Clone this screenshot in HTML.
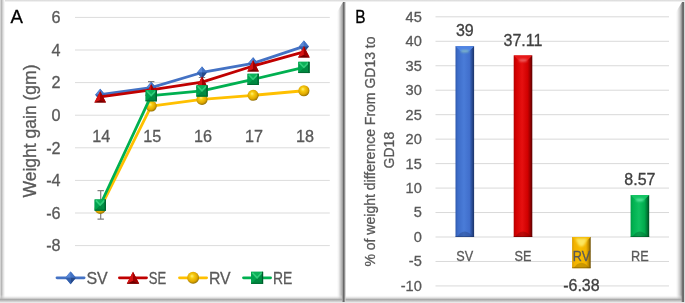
<!DOCTYPE html>
<html><head><meta charset="utf-8"><style>
html,body{margin:0;padding:0;background:#fff;}
body{width:685px;height:303px;overflow:hidden;position:relative;}
svg{display:block;will-change:transform;}
text{font-family:"Liberation Sans",sans-serif;}
</style></head><body>
<svg width="685" height="303" viewBox="0 0 685 303">
<defs>
<linearGradient id="shR" gradientUnits="userSpaceOnUse" x1="337" x2="346" y1="0" y2="0">
<stop offset="0" stop-color="#fff"/>
<stop offset="0.167" stop-color="#f2f2f2"/>
<stop offset="0.278" stop-color="#e0e0e0"/>
<stop offset="0.389" stop-color="#cccccc"/>
<stop offset="0.5" stop-color="#b8b8b8"/>
<stop offset="0.611" stop-color="#a0a0a0"/>
<stop offset="0.722" stop-color="#686868"/>
<stop offset="0.833" stop-color="#909090"/>
<stop offset="0.944" stop-color="#d8d8d8"/>
<stop offset="1" stop-color="#fafafa"/>
</linearGradient>
<linearGradient id="shR2" gradientUnits="userSpaceOnUse" x1="676" x2="685" y1="0" y2="0">
<stop offset="0" stop-color="#fff"/>
<stop offset="0.167" stop-color="#f0f0f0"/>
<stop offset="0.278" stop-color="#e0e0e0"/>
<stop offset="0.389" stop-color="#d0d0d0"/>
<stop offset="0.5" stop-color="#b8b8b8"/>
<stop offset="0.611" stop-color="#989898"/>
<stop offset="0.722" stop-color="#707070"/>
<stop offset="0.833" stop-color="#686868"/>
<stop offset="0.944" stop-color="#d8d8d8"/>
<stop offset="1" stop-color="#e0e0e0"/>
</linearGradient>
<linearGradient id="shB" x1="0" x2="0" y1="0" y2="1">
<stop offset="0" stop-color="#fff" stop-opacity="0"/>
<stop offset="0.65" stop-color="#a8a8a8"/>
<stop offset="1" stop-color="#dcdcdc"/>
</linearGradient>
<linearGradient id="shL" x1="0" x2="1" y1="0" y2="0">
<stop offset="0" stop-color="#e2e2e2"/>
<stop offset="0.3" stop-color="#b6b6b6"/>
<stop offset="0.6" stop-color="#dcdcdc"/>
<stop offset="1" stop-color="#fff"/>
</linearGradient>
<linearGradient id="shT" x1="0" x2="0" y1="0" y2="1">
<stop offset="0" stop-color="#d6d6d6"/>
<stop offset="0.5" stop-color="#ececec"/>
<stop offset="1" stop-color="#fff"/>
</linearGradient>
<radialGradient id="gBall" cx="0.45" cy="0.42" r="0.6" fx="0.4" fy="0.35">
<stop offset="0" stop-color="#FFF27A"/>
<stop offset="0.3" stop-color="#F8CC10"/>
<stop offset="0.7" stop-color="#E0A800"/>
<stop offset="0.9" stop-color="#a88000"/>
<stop offset="1" stop-color="#806000"/>
</radialGradient>

<linearGradient id="barSV" x1="0" x2="1" y1="0" y2="0"><stop offset="0" stop-color="#2d58ac"/><stop offset="0.12" stop-color="#3d6cc8"/><stop offset="0.45" stop-color="#4a7cd8"/><stop offset="0.75" stop-color="#416fcc"/><stop offset="0.88" stop-color="#2a4e98"/><stop offset="1" stop-color="#1a3266"/></linearGradient>
<linearGradient id="barSE" x1="0" x2="1" y1="0" y2="0"><stop offset="0" stop-color="#b00000"/><stop offset="0.12" stop-color="#d40000"/><stop offset="0.45" stop-color="#e61010"/><stop offset="0.75" stop-color="#d00000"/><stop offset="0.88" stop-color="#9a0000"/><stop offset="1" stop-color="#5a0000"/></linearGradient>
<linearGradient id="barRV" x1="0" x2="1" y1="0" y2="0"><stop offset="0" stop-color="#d89c00"/><stop offset="0.12" stop-color="#f2b200"/><stop offset="0.45" stop-color="#f8bc00"/><stop offset="0.75" stop-color="#f2b400"/><stop offset="0.88" stop-color="#c08c00"/><stop offset="1" stop-color="#6a4c00"/></linearGradient>
<linearGradient id="barRE" x1="0" x2="1" y1="0" y2="0"><stop offset="0" stop-color="#009a44"/><stop offset="0.12" stop-color="#00b050"/><stop offset="0.45" stop-color="#10c060"/><stop offset="0.75" stop-color="#00aa4c"/><stop offset="0.88" stop-color="#007e38"/><stop offset="1" stop-color="#004a20"/></linearGradient>
<filter id="blur1" x="-50%" y="-100%" width="200%" height="300%"><feGaussianBlur stdDeviation="0.8"/></filter>
<filter id="blur2" x="-50%" y="-50%" width="200%" height="200%"><feGaussianBlur stdDeviation="0.55"/></filter>
</defs>
<rect width="685" height="303" fill="#fff"/>
<rect x="0" y="0" width="685" height="2.5" fill="url(#shT)"/>
<rect x="0" y="0" width="5" height="303" fill="url(#shL)"/>
<rect x="0" y="302" width="685" height="1" fill="#e8e8e8"/>
<path d="M337 12L343 2H346V302H342L337 297Z" fill="url(#shR)"/>
<path d="M676 12L682 2H685V302H681L676 297Z" fill="url(#shR2)"/>
<rect x="0" y="295" width="342" height="7" fill="url(#shB)"/>
<rect x="345.5" y="295" width="336" height="7" fill="url(#shB)"/>
<text x="10.60" y="23.00" font-size="18.6" fill="#000" stroke="#000" stroke-width="0.3" text-anchor="start" >A</text>
<text transform="translate(355.20,22.60) scale(0.85,1)" font-size="18.2" fill="#000" stroke="#000" stroke-width="0.3" text-anchor="start" >B</text>
<rect x="75" y="16.90" width="254.8" height="1" fill="#dcdcdc"/>
<text x="60.60" y="23.20" font-size="16.2" fill="#595959" stroke="#595959" stroke-width="0.3" text-anchor="end" >6</text>
<rect x="75" y="49.50" width="254.8" height="1" fill="#dcdcdc"/>
<text x="60.60" y="55.80" font-size="16.2" fill="#595959" stroke="#595959" stroke-width="0.3" text-anchor="end" >4</text>
<rect x="75" y="82.10" width="254.8" height="1" fill="#dcdcdc"/>
<text x="60.60" y="88.40" font-size="16.2" fill="#595959" stroke="#595959" stroke-width="0.3" text-anchor="end" >2</text>
<rect x="75" y="114.70" width="254.8" height="1" fill="#dcdcdc"/>
<text x="60.60" y="121.00" font-size="16.2" fill="#595959" stroke="#595959" stroke-width="0.3" text-anchor="end" >0</text>
<rect x="75" y="147.30" width="254.8" height="1" fill="#dcdcdc"/>
<text x="60.60" y="153.60" font-size="16.2" fill="#595959" stroke="#595959" stroke-width="0.3" text-anchor="end" >-2</text>
<rect x="75" y="179.90" width="254.8" height="1" fill="#dcdcdc"/>
<text x="60.60" y="186.20" font-size="16.2" fill="#595959" stroke="#595959" stroke-width="0.3" text-anchor="end" >-4</text>
<rect x="75" y="212.50" width="254.8" height="1" fill="#dcdcdc"/>
<text x="60.60" y="218.80" font-size="16.2" fill="#595959" stroke="#595959" stroke-width="0.3" text-anchor="end" >-6</text>
<rect x="75" y="245.10" width="254.8" height="1" fill="#dcdcdc"/>
<text x="60.60" y="251.40" font-size="16.2" fill="#595959" stroke="#595959" stroke-width="0.3" text-anchor="end" >-8</text>
<text x="101.20" y="142.20" font-size="16.2" fill="#595959" stroke="#595959" stroke-width="0.3" text-anchor="middle" >14</text>
<text x="152.20" y="142.20" font-size="16.2" fill="#595959" stroke="#595959" stroke-width="0.3" text-anchor="middle" >15</text>
<text x="203.00" y="142.20" font-size="16.2" fill="#595959" stroke="#595959" stroke-width="0.3" text-anchor="middle" >16</text>
<text x="254.10" y="142.20" font-size="16.2" fill="#595959" stroke="#595959" stroke-width="0.3" text-anchor="middle" >17</text>
<text x="304.90" y="142.20" font-size="16.2" fill="#595959" stroke="#595959" stroke-width="0.3" text-anchor="middle" >18</text>
<text transform="translate(36.3,131) rotate(-90)" font-size="17.5" fill="#595959" stroke="#595959" stroke-width="0.3" text-anchor="middle">Weight gain (gm)</text>
<path d="M100.7 190.7V219.2M97.5 190.7H103.9M97.5 219.2H103.9" stroke="#7f7f7f" stroke-width="1.2" fill="none"/>
<path d="M151.2 81.7V95M148.0 81.7H154.39999999999998M148.0 95H154.39999999999998" stroke="#7f7f7f" stroke-width="1.2" fill="none"/>
<path d="M202 77.5V85M198.8 77.5H205.2M198.8 85H205.2" stroke="#7f7f7f" stroke-width="1.2" fill="none"/>
<polyline points="100.2,94.66 151.2,87.65 202.0,72.49 253.1,63.37 303.9,46.41" fill="none" stroke="#4472C4" stroke-width="2.8" stroke-linejoin="round" stroke-linecap="round"/>
<path d="M100.2 88.662L105.2 94.662L100.2 100.662L95.2 94.662Z" fill="#3c6cc0"/><path d="M100.2 88.662L95.2 94.662L100.2 94.662Z" fill="#5a88d6"/><path d="M100.2 88.662L105.2 94.662L100.2 94.662Z" fill="#4272c4"/><path d="M100.2 100.662L105.2 94.662L100.2 94.662Z" fill="#264a8a"/><path d="M100.2 100.662L95.2 94.662L100.2 94.662Z" fill="#3460ac"/>
<path d="M151.2 81.653L156.2 87.653L151.2 93.653L146.2 87.653Z" fill="#3c6cc0"/><path d="M151.2 81.653L146.2 87.653L151.2 87.653Z" fill="#5a88d6"/><path d="M151.2 81.653L156.2 87.653L151.2 87.653Z" fill="#4272c4"/><path d="M151.2 93.653L156.2 87.653L151.2 87.653Z" fill="#264a8a"/><path d="M151.2 93.653L146.2 87.653L151.2 87.653Z" fill="#3460ac"/>
<path d="M202.0 66.494L207.0 72.494L202.0 78.494L197.0 72.494Z" fill="#3c6cc0"/><path d="M202.0 66.494L197.0 72.494L202.0 72.494Z" fill="#5a88d6"/><path d="M202.0 66.494L207.0 72.494L202.0 72.494Z" fill="#4272c4"/><path d="M202.0 78.494L207.0 72.494L202.0 72.494Z" fill="#264a8a"/><path d="M202.0 78.494L197.0 72.494L202.0 72.494Z" fill="#3460ac"/>
<path d="M253.1 57.366L258.1 63.366L253.1 69.366L248.1 63.366Z" fill="#3c6cc0"/><path d="M253.1 57.366L248.1 63.366L253.1 63.366Z" fill="#5a88d6"/><path d="M253.1 57.366L258.1 63.366L253.1 63.366Z" fill="#4272c4"/><path d="M253.1 69.366L258.1 63.366L253.1 63.366Z" fill="#264a8a"/><path d="M253.1 69.366L248.1 63.366L253.1 63.366Z" fill="#3460ac"/>
<path d="M303.9 40.414L308.9 46.414L303.9 52.414L298.9 46.414Z" fill="#3c6cc0"/><path d="M303.9 40.414L298.9 46.414L303.9 46.414Z" fill="#5a88d6"/><path d="M303.9 40.414L308.9 46.414L303.9 46.414Z" fill="#4272c4"/><path d="M303.9 52.414L308.9 46.414L303.9 46.414Z" fill="#264a8a"/><path d="M303.9 52.414L298.9 46.414L303.9 46.414Z" fill="#3460ac"/>
<polyline points="100.2,96.94 151.2,89.94 202.0,82.11 253.1,65.97 303.9,51.79" fill="none" stroke="#C00000" stroke-width="2.8" stroke-linejoin="round" stroke-linecap="round"/>
<path d="M100.2 91.34400000000001L106.0 102.544L94.4 102.544Z" fill="#b00000"/><path d="M100.2 91.34400000000001L100.2 100.144L94.4 102.544Z" fill="#d41414"/><path d="M100.2 91.34400000000001L106.0 102.544L100.2 100.144Z" fill="#a00000"/><path d="M94.4 102.544L100.2 100.144L106.0 102.544Z" fill="#6e0000"/>
<path d="M151.2 84.33500000000001L157.0 95.535L145.39999999999998 95.535Z" fill="#b00000"/><path d="M151.2 84.33500000000001L151.2 93.135L145.39999999999998 95.535Z" fill="#d41414"/><path d="M151.2 84.33500000000001L157.0 95.535L151.2 93.135Z" fill="#a00000"/><path d="M145.39999999999998 95.535L151.2 93.135L157.0 95.535Z" fill="#6e0000"/>
<path d="M202.0 76.51100000000001L207.8 87.711L196.2 87.711Z" fill="#b00000"/><path d="M202.0 76.51100000000001L202.0 85.311L196.2 87.711Z" fill="#d41414"/><path d="M202.0 76.51100000000001L207.8 87.711L202.0 85.311Z" fill="#a00000"/><path d="M196.2 87.711L202.0 85.311L207.8 87.711Z" fill="#6e0000"/>
<path d="M253.1 60.374L258.9 71.574L247.29999999999998 71.574Z" fill="#b00000"/><path d="M253.1 60.374L253.1 69.174L247.29999999999998 71.574Z" fill="#d41414"/><path d="M253.1 60.374L258.9 71.574L253.1 69.174Z" fill="#a00000"/><path d="M247.29999999999998 71.574L253.1 69.174L258.9 71.574Z" fill="#6e0000"/>
<path d="M303.9 46.193L309.7 57.393L298.09999999999997 57.393Z" fill="#b00000"/><path d="M303.9 46.193L303.9 54.993L298.09999999999997 57.393Z" fill="#d41414"/><path d="M303.9 46.193L309.7 57.393L303.9 54.993Z" fill="#a00000"/><path d="M298.09999999999997 57.393L303.9 54.993L309.7 57.393Z" fill="#6e0000"/>
<polyline points="100.2,208.44 151.2,106.07 202.0,99.39 253.1,95.31 303.9,90.75" fill="none" stroke="#FFC000" stroke-width="2.8" stroke-linejoin="round" stroke-linecap="round"/>
<circle cx="100.2" cy="208.436" r="5.55" fill="url(#gBall)"/>
<circle cx="151.2" cy="106.072" r="5.55" fill="url(#gBall)"/>
<circle cx="202.0" cy="99.38900000000001" r="5.55" fill="url(#gBall)"/>
<circle cx="253.1" cy="95.31400000000001" r="5.55" fill="url(#gBall)"/>
<circle cx="303.9" cy="90.75" r="5.55" fill="url(#gBall)"/>
<polyline points="100.2,205.01 151.2,95.64 202.0,90.91 253.1,79.34 303.9,67.44" fill="none" stroke="#00B050" stroke-width="2.8" stroke-linejoin="round" stroke-linecap="round"/>
<rect x="94.60000000000001" y="199.413" width="11.2" height="11.2" fill="#00a04c"/><path d="M94.60000000000001 199.413L105.8 199.413L100.2 205.013Z" fill="#0cb058"/><path d="M105.8 199.413L105.8 210.613L100.2 205.013Z" fill="#008c44"/><path d="M94.60000000000001 210.613L105.8 210.613L100.2 205.013Z" fill="#008840"/><path d="M94.60000000000001 199.413L94.60000000000001 210.613L100.2 205.013Z" fill="#00a24e"/><path d="M95.80000000000001 200.413L100.2 205.013L104.6 200.413" fill="none" stroke="#40dc88" stroke-width="1.6" opacity="0.75" filter="url(#blur2)"/><rect x="104.6" y="199.413" width="1.2" height="11.2" fill="#005a2c"/><rect x="94.60000000000001" y="209.613" width="11.2" height="1" fill="#006a32"/>
<rect x="145.6" y="90.04" width="11.2" height="11.2" fill="#00a04c"/><path d="M145.6 90.04L156.79999999999998 90.04L151.2 95.64Z" fill="#0cb058"/><path d="M156.79999999999998 90.04L156.79999999999998 101.24L151.2 95.64Z" fill="#008c44"/><path d="M145.6 101.24L156.79999999999998 101.24L151.2 95.64Z" fill="#008840"/><path d="M145.6 90.04L145.6 101.24L151.2 95.64Z" fill="#00a24e"/><path d="M146.79999999999998 91.04L151.2 95.64L155.6 91.04" fill="none" stroke="#40dc88" stroke-width="1.6" opacity="0.75" filter="url(#blur2)"/><rect x="155.6" y="90.04" width="1.2" height="11.2" fill="#005a2c"/><rect x="145.6" y="100.24" width="11.2" height="1" fill="#006a32"/>
<rect x="196.4" y="85.313" width="11.2" height="11.2" fill="#00a04c"/><path d="M196.4 85.313L207.6 85.313L202.0 90.913Z" fill="#0cb058"/><path d="M207.6 85.313L207.6 96.51299999999999L202.0 90.913Z" fill="#008c44"/><path d="M196.4 96.51299999999999L207.6 96.51299999999999L202.0 90.913Z" fill="#008840"/><path d="M196.4 85.313L196.4 96.51299999999999L202.0 90.913Z" fill="#00a24e"/><path d="M197.6 86.313L202.0 90.913L206.4 86.313" fill="none" stroke="#40dc88" stroke-width="1.6" opacity="0.75" filter="url(#blur2)"/><rect x="206.4" y="85.313" width="1.2" height="11.2" fill="#005a2c"/><rect x="196.4" y="95.51299999999999" width="11.2" height="1" fill="#006a32"/>
<rect x="247.5" y="73.74000000000001" width="11.2" height="11.2" fill="#00a04c"/><path d="M247.5 73.74000000000001L258.7 73.74000000000001L253.1 79.34Z" fill="#0cb058"/><path d="M258.7 73.74000000000001L258.7 84.94L253.1 79.34Z" fill="#008c44"/><path d="M247.5 84.94L258.7 84.94L253.1 79.34Z" fill="#008840"/><path d="M247.5 73.74000000000001L247.5 84.94L253.1 79.34Z" fill="#00a24e"/><path d="M248.7 74.74000000000001L253.1 79.34L257.5 74.74000000000001" fill="none" stroke="#40dc88" stroke-width="1.6" opacity="0.75" filter="url(#blur2)"/><rect x="257.5" y="73.74000000000001" width="1.2" height="11.2" fill="#005a2c"/><rect x="247.5" y="83.94" width="11.2" height="1" fill="#006a32"/>
<rect x="298.29999999999995" y="61.841" width="11.2" height="11.2" fill="#00a04c"/><path d="M298.29999999999995 61.841L309.5 61.841L303.9 67.441Z" fill="#0cb058"/><path d="M309.5 61.841L309.5 73.041L303.9 67.441Z" fill="#008c44"/><path d="M298.29999999999995 73.041L309.5 73.041L303.9 67.441Z" fill="#008840"/><path d="M298.29999999999995 61.841L298.29999999999995 73.041L303.9 67.441Z" fill="#00a24e"/><path d="M299.49999999999994 62.841L303.9 67.441L308.3 62.841" fill="none" stroke="#40dc88" stroke-width="1.6" opacity="0.75" filter="url(#blur2)"/><rect x="308.3" y="61.841" width="1.2" height="11.2" fill="#005a2c"/><rect x="298.29999999999995" y="72.041" width="11.2" height="1" fill="#006a32"/>
<line x1="57.0" y1="277.8" x2="84.1" y2="277.8" stroke="#4472C4" stroke-width="2.8" stroke-linecap="round"/>
<path d="M70.6 271.38L75.94999999999999 277.8L70.6 284.22L65.25 277.8Z" fill="#3c6cc0"/><path d="M70.6 271.38L65.25 277.8L70.6 277.8Z" fill="#5a88d6"/><path d="M70.6 271.38L75.94999999999999 277.8L70.6 277.8Z" fill="#4272c4"/><path d="M70.6 284.22L75.94999999999999 277.8L70.6 277.8Z" fill="#264a8a"/><path d="M70.6 284.22L65.25 277.8L70.6 277.8Z" fill="#3460ac"/>
<text transform="translate(86.40,283.60) scale(0.93,1)" font-size="17.2" fill="#595959" stroke="#595959" stroke-width="0.3" text-anchor="start" >SV</text>
<line x1="119.4" y1="277.8" x2="146.5" y2="277.8" stroke="#C00000" stroke-width="2.8" stroke-linecap="round"/>
<path d="M133.0 271.808L139.206 283.79200000000003L126.794 283.79200000000003Z" fill="#b00000"/><path d="M133.0 271.808L133.0 281.0L126.794 283.79200000000003Z" fill="#d41414"/><path d="M133.0 271.808L139.206 283.79200000000003L133.0 281.0Z" fill="#a00000"/><path d="M126.794 283.79200000000003L133.0 281.0L139.206 283.79200000000003Z" fill="#6e0000"/>
<text transform="translate(148.80,283.60) scale(0.76,1)" font-size="17.2" fill="#595959" stroke="#595959" stroke-width="0.3" text-anchor="start" >SE</text>
<line x1="179.5" y1="277.8" x2="206.60000000000002" y2="277.8" stroke="#FFC000" stroke-width="2.8" stroke-linecap="round"/>
<circle cx="193.10000000000002" cy="277.8" r="5.9385" fill="url(#gBall)"/>
<text transform="translate(208.90,283.60) scale(0.92,1)" font-size="17.2" fill="#595959" stroke="#595959" stroke-width="0.3" text-anchor="start" >RV</text>
<line x1="243.5" y1="277.8" x2="270.6" y2="277.8" stroke="#00B050" stroke-width="2.8" stroke-linecap="round"/>
<rect x="251.10800000000003" y="271.808" width="11.984" height="11.984" fill="#00a04c"/><path d="M251.10800000000003 271.808L263.09200000000004 271.808L257.1 277.8Z" fill="#0cb058"/><path d="M263.09200000000004 271.808L263.09200000000004 283.79200000000003L257.1 277.8Z" fill="#008c44"/><path d="M251.10800000000003 283.79200000000003L263.09200000000004 283.79200000000003L257.1 277.8Z" fill="#008840"/><path d="M251.10800000000003 271.808L251.10800000000003 283.79200000000003L257.1 277.8Z" fill="#00a24e"/><path d="M252.30800000000002 272.808L257.1 277.8L261.89200000000005 272.808" fill="none" stroke="#40dc88" stroke-width="1.6" opacity="0.75" filter="url(#blur2)"/><rect x="261.89200000000005" y="271.808" width="1.2" height="11.984" fill="#005a2c"/><rect x="251.10800000000003" y="282.79200000000003" width="11.984" height="1" fill="#006a32"/>
<text transform="translate(272.90,283.60) scale(0.81,1)" font-size="17.2" fill="#595959" stroke="#595959" stroke-width="0.3" text-anchor="start" >RE</text>
<rect x="435.5" y="16.31" width="233.5" height="1" fill="#d9d9d9"/>
<text x="421.80" y="21.71" font-size="14.6" fill="#595959" stroke="#595959" stroke-width="0.3" text-anchor="end" >45</text>
<rect x="435.5" y="40.78" width="233.5" height="1" fill="#d9d9d9"/>
<text x="421.80" y="46.18" font-size="14.6" fill="#595959" stroke="#595959" stroke-width="0.3" text-anchor="end" >40</text>
<rect x="435.5" y="65.25" width="233.5" height="1" fill="#d9d9d9"/>
<text x="421.80" y="70.65" font-size="14.6" fill="#595959" stroke="#595959" stroke-width="0.3" text-anchor="end" >35</text>
<rect x="435.5" y="89.71" width="233.5" height="1" fill="#d9d9d9"/>
<text x="421.80" y="95.11" font-size="14.6" fill="#595959" stroke="#595959" stroke-width="0.3" text-anchor="end" >30</text>
<rect x="435.5" y="114.18" width="233.5" height="1" fill="#d9d9d9"/>
<text x="421.80" y="119.58" font-size="14.6" fill="#595959" stroke="#595959" stroke-width="0.3" text-anchor="end" >25</text>
<rect x="435.5" y="138.64" width="233.5" height="1" fill="#d9d9d9"/>
<text x="421.80" y="144.04" font-size="14.6" fill="#595959" stroke="#595959" stroke-width="0.3" text-anchor="end" >20</text>
<rect x="435.5" y="163.11" width="233.5" height="1" fill="#d9d9d9"/>
<text x="421.80" y="168.51" font-size="14.6" fill="#595959" stroke="#595959" stroke-width="0.3" text-anchor="end" >15</text>
<rect x="435.5" y="187.57" width="233.5" height="1" fill="#d9d9d9"/>
<text x="421.80" y="192.97" font-size="14.6" fill="#595959" stroke="#595959" stroke-width="0.3" text-anchor="end" >10</text>
<rect x="435.5" y="212.03" width="233.5" height="1" fill="#d9d9d9"/>
<text x="421.80" y="217.44" font-size="14.6" fill="#595959" stroke="#595959" stroke-width="0.3" text-anchor="end" >5</text>
<rect x="435.5" y="236.50" width="233.5" height="1" fill="#d9d9d9"/>
<text x="421.80" y="241.90" font-size="14.6" fill="#595959" stroke="#595959" stroke-width="0.3" text-anchor="end" >0</text>
<rect x="435.5" y="260.96" width="233.5" height="1" fill="#d9d9d9"/>
<text x="421.80" y="266.36" font-size="14.6" fill="#595959" stroke="#595959" stroke-width="0.3" text-anchor="end" >-5</text>
<rect x="435.5" y="285.43" width="233.5" height="1" fill="#d9d9d9"/>
<text x="421.80" y="290.83" font-size="14.6" fill="#595959" stroke="#595959" stroke-width="0.3" text-anchor="end" >-10</text>
<text transform="translate(374.6,151.5) rotate(-90)" font-size="14" fill="#595959" stroke="#595959" stroke-width="0.3" text-anchor="middle">% of weight difference From GD13 to</text>
<text transform="translate(394.2,150.1) rotate(-90)" font-size="14" fill="#595959" stroke="#595959" stroke-width="0.3" text-anchor="middle">GD18</text>
<rect x="455.50" y="46.17" width="18.6" height="190.83" fill="url(#barSV)"/>
<path d="M455.50 46.17H474.10L469.10 51.17Q464.80 52.67 460.50 51.17Z" fill="#4f84e4"/>
<ellipse cx="464.80" cy="51.17" rx="4.2" ry="1.2" fill="#90c8b8" opacity="0.85" filter="url(#blur1)"/>
<path d="M456.50 237.00H473.10L469.10 233.00Q464.80 230.00 460.50 233.00Z" fill="#1a3266" opacity="0.3"/>
<rect x="455.50" y="236.00" width="18.6" height="1" fill="#1a3266" opacity="0.45"/>
<text x="464.80" y="36.27" font-size="16" fill="#404040" stroke="#404040" stroke-width="0.3" text-anchor="middle" >39</text>
<text transform="translate(464.80,261.30) scale(0.88,1)" font-size="14.4" fill="#595959" stroke="#595959" stroke-width="0.3" text-anchor="middle" >SV</text>
<rect x="513.70" y="55.42" width="18.6" height="181.58" fill="url(#barSE)"/>
<path d="M513.70 55.42H532.30L527.30 60.42Q523.00 61.92 518.70 60.42Z" fill="#e81818"/>
<ellipse cx="523.00" cy="60.42" rx="4.2" ry="1.2" fill="#f08080" opacity="0.85" filter="url(#blur1)"/>
<path d="M514.70 237.00H531.30L527.30 233.00Q523.00 230.00 518.70 233.00Z" fill="#5a0000" opacity="0.3"/>
<rect x="513.70" y="236.00" width="18.6" height="1" fill="#5a0000" opacity="0.45"/>
<text x="523.00" y="45.52" font-size="16" fill="#404040" stroke="#404040" stroke-width="0.3" text-anchor="middle" >37.11</text>
<text transform="translate(523.00,261.30) scale(0.88,1)" font-size="14.4" fill="#595959" stroke="#595959" stroke-width="0.3" text-anchor="middle" >SE</text>
<rect x="572.10" y="237.00" width="18.6" height="31.22" fill="url(#barRV)"/>
<path d="M572.10 237.00H590.70L585.70 242.00Q581.40 243.50 577.10 242.00Z" fill="#f4b800"/>
<path d="M575.60 238.50H587.20C585.70 243.00 583.90 246.50 581.40 246.50C578.90 246.50 577.10 243.00 575.60 238.50Z" fill="#fce660" filter="url(#blur1)"/>
<path d="M573.10 268.22H589.70L585.70 264.22Q581.40 261.22 577.10 264.22Z" fill="#6a4c00" opacity="0.3"/>
<rect x="572.10" y="267.22" width="18.6" height="1" fill="#6a4c00" opacity="0.45"/>
<text x="581.40" y="291.30" font-size="16" fill="#404040" stroke="#404040" stroke-width="0.3" text-anchor="middle" >-6.38</text>
<text transform="translate(581.40,261.30) scale(0.88,1)" font-size="14.4" fill="#595959" stroke="#595959" stroke-width="0.3" text-anchor="middle" >RV</text>
<rect x="630.60" y="195.07" width="18.6" height="41.93" fill="url(#barRE)"/>
<path d="M630.60 195.07H649.20L644.20 200.07Q639.90 201.57 635.60 200.07Z" fill="#14c464"/>
<ellipse cx="639.90" cy="200.07" rx="4.2" ry="1.2" fill="#70f0b0" opacity="0.85" filter="url(#blur1)"/>
<path d="M631.60 237.00H648.20L644.20 233.00Q639.90 230.00 635.60 233.00Z" fill="#004a20" opacity="0.3"/>
<rect x="630.60" y="236.00" width="18.6" height="1" fill="#004a20" opacity="0.45"/>
<text x="639.90" y="185.17" font-size="16" fill="#404040" stroke="#404040" stroke-width="0.3" text-anchor="middle" >8.57</text>
<text transform="translate(639.90,261.30) scale(0.88,1)" font-size="14.4" fill="#595959" stroke="#595959" stroke-width="0.3" text-anchor="middle" >RE</text>
</svg>
</body></html>
